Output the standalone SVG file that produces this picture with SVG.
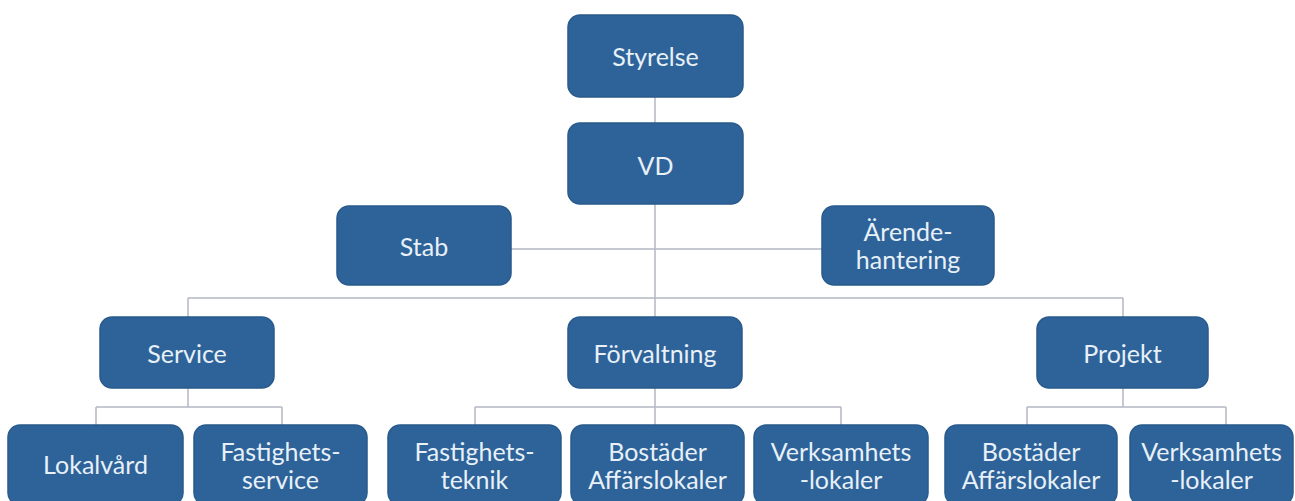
<svg xmlns="http://www.w3.org/2000/svg" width="1295" height="501" viewBox="0 0 1295 501">
<style>
.box{fill:#2e6399;stroke:#285a8c;stroke-width:1.5}
.t{font-family:Lato,"Open Sans","Liberation Sans",sans-serif;font-size:25px;fill:#e8f0f8;text-anchor:middle}
.c{fill:none;stroke:#b4b8c2;stroke-width:1.5}
</style>
<rect width="1295" height="501" fill="#ffffff"/>
<g id="connectors">
<path class="c" d="M655,97V123 M655,204V317 M511,249H822 M188,298H1123 M188,298V317 M1123,298V317"/>
<path class="c" d="M188,388V407 M96,407H282 M96,407V425 M282,407V425"/>
<path class="c" d="M655,388V425 M475,407H841 M475,407V425 M841,407V425"/>
<path class="c" d="M1123,388V407 M1027,407H1226 M1027,407V425 M1226,407V425"/>
</g>
<g id="styrelse"><rect class="box" x="568" y="15" width="175" height="82" rx="12"/><text class="t" x="655.5" y="66">Styrelse</text></g>
<g id="vd"><rect class="box" x="568" y="123" width="175" height="81" rx="12"/><text class="t" x="655.5" y="175">VD</text></g>
<g id="stab"><rect class="box" x="337" y="206" width="174" height="79" rx="12"/><text class="t" x="424" y="256">Stab</text></g>
<g id="arendehantering"><rect class="box" x="822" y="206" width="172" height="79" rx="12"/><text class="t" x="908" y="241">Ärende-</text><text class="t" x="908" y="269">hantering</text></g>
<g id="service"><rect class="box" x="100" y="317" width="174" height="71" rx="12"/><text class="t" x="187" y="363">Service</text></g>
<g id="forvaltning"><rect class="box" x="568" y="317" width="174" height="71" rx="12"/><text class="t" x="655" y="363">Förvaltning</text></g>
<g id="projekt"><rect class="box" x="1037" y="317" width="171" height="71" rx="12"/><text class="t" x="1122.5" y="363">Projekt</text></g>
<g id="lokalvard"><rect class="box" x="8" y="425" width="175" height="80" rx="12"/><text class="t" x="95.5" y="474">Lokalvård</text></g>
<g id="fastighetsservice"><rect class="box" x="194" y="425" width="173" height="80" rx="12"/><text class="t" x="280.5" y="461">Fastighets-</text><text class="t" x="280.5" y="489">service</text></g>
<g id="fastighetsteknik"><rect class="box" x="388" y="425" width="173" height="80" rx="12"/><text class="t" x="474.5" y="461">Fastighets-</text><text class="t" x="474.5" y="489">teknik</text></g>
<g id="bostader1"><rect class="box" x="571" y="425" width="173" height="80" rx="12"/><text class="t" x="657.5" y="461">Bostäder</text><text class="t" x="657.5" y="489">Affärslokaler</text></g>
<g id="verksamhet1"><rect class="box" x="754" y="425" width="174" height="80" rx="12"/><text class="t" x="841" y="461">Verksamhets</text><text class="t" x="841" y="489">-lokaler</text></g>
<g id="bostader2"><rect class="box" x="945" y="425" width="172" height="80" rx="12"/><text class="t" x="1031" y="461">Bostäder</text><text class="t" x="1031" y="489">Affärslokaler</text></g>
<g id="verksamhet2"><rect class="box" x="1130" y="425" width="163" height="80" rx="12"/><text class="t" x="1211.5" y="461">Verksamhets</text><text class="t" x="1211.5" y="489">-lokaler</text></g>
</svg>
